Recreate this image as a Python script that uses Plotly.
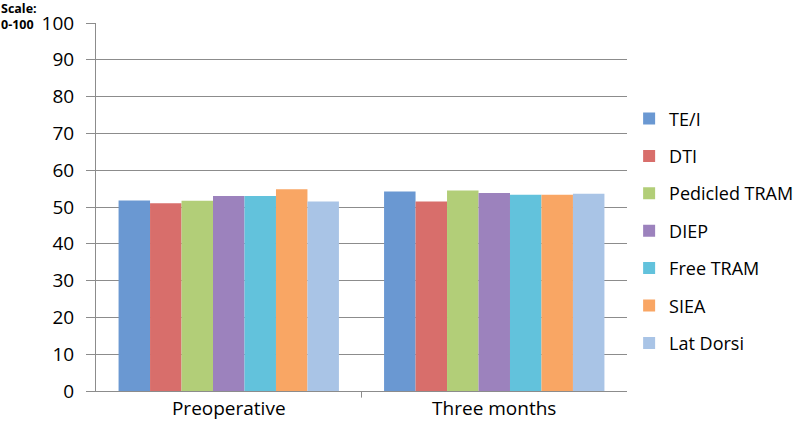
import plotly.graph_objects as go

categories = ["Preoperative", "Three months"]
series_names = ["TE/I", "DTI", "Pedicled TRAM", "DIEP", "Free TRAM", "SIEA", "Lat Dorsi"]
te_i = [51.8, 54.2]
dti = [51.0, 51.5]
pedicled_tram = [51.7, 54.5]
diep = [53.0, 53.8]
free_tram = [53.0, 53.3]
siea = [54.8, 53.3]
lat_dorsi = [51.5, 53.6]
y_ticks = [0, 10, 20, 30, 40, 50, 60, 70, 80, 90, 100]

series_values = [te_i, dti, pedicled_tram, diep, free_tram, siea, lat_dorsi]
colors = ["#6A98D2", "#D86E6B", "#B2CE78", "#9C82BD", "#62C2DC", "#F9A664", "#A9C4E6"]

fig = go.Figure()
for i, (name, vals) in enumerate(zip(series_names, series_values)):
    fig.add_trace(go.Bar(
        x=categories, y=vals, name=name,
        marker=dict(color=colors[i], line=dict(width=0)),
        legendgroup=name,
    ))

font = "Open Sans, Lato, sans-serif"
fig.update_layout(
    width=800, height=430,
    margin=dict(l=96, r=173, t=23, b=39, autoexpand=False),
    paper_bgcolor="white", plot_bgcolor="white",
    barmode="group", bargap=0.17, bargroupgap=0,
    font=dict(family=font, size=16, color="#000000"),
    legend=dict(
        x=1.004, xanchor="left", y=0.79, yanchor="top",
        font=dict(size=18, family=font, color="#000000"),
        tracegroupgap=11,
        itemclick=False,
    ),
    xaxis=dict(
        showgrid=False, showline=True, linecolor="#8c8c8c", linewidth=1,
        ticks="", tickfont=dict(size=19, family=font),
        ticklabelstandoff=0,
    ),
    yaxis=dict(
        range=[0, 100], tickvals=y_ticks, ticktext=[str(v) for v in y_ticks],
        showgrid=True, gridcolor="#8c8c8c", gridwidth=1,
        showline=True, linecolor="#8c8c8c", linewidth=1,
        ticks="outside", ticklen=9, tickcolor="#8c8c8c",
        tickfont=dict(size=19, family=font),
        ticklabelstandoff=8,
        zeroline=False,
    ),
)
fig.add_annotation(
    text="<b>Scale:<br>0-100</b>", xref="paper", yref="paper",
    x=-96/531, y=1 + 23/368, xanchor="left", yanchor="top",
    showarrow=False, align="left", yshift=2, xshift=-1,
    font=dict(size=12.5, family=font, color="#000000"),
)
# divider tick between categories
fig.add_shape(type="line", xref="x", yref="paper", x0=0.5, x1=0.5, y0=0, y1=-0.018,
              line=dict(color="#8c8c8c", width=1))

fig.write_html("out.html", config={"displayModeBar": False},
               post_script="document.body.style.margin='0px';")
